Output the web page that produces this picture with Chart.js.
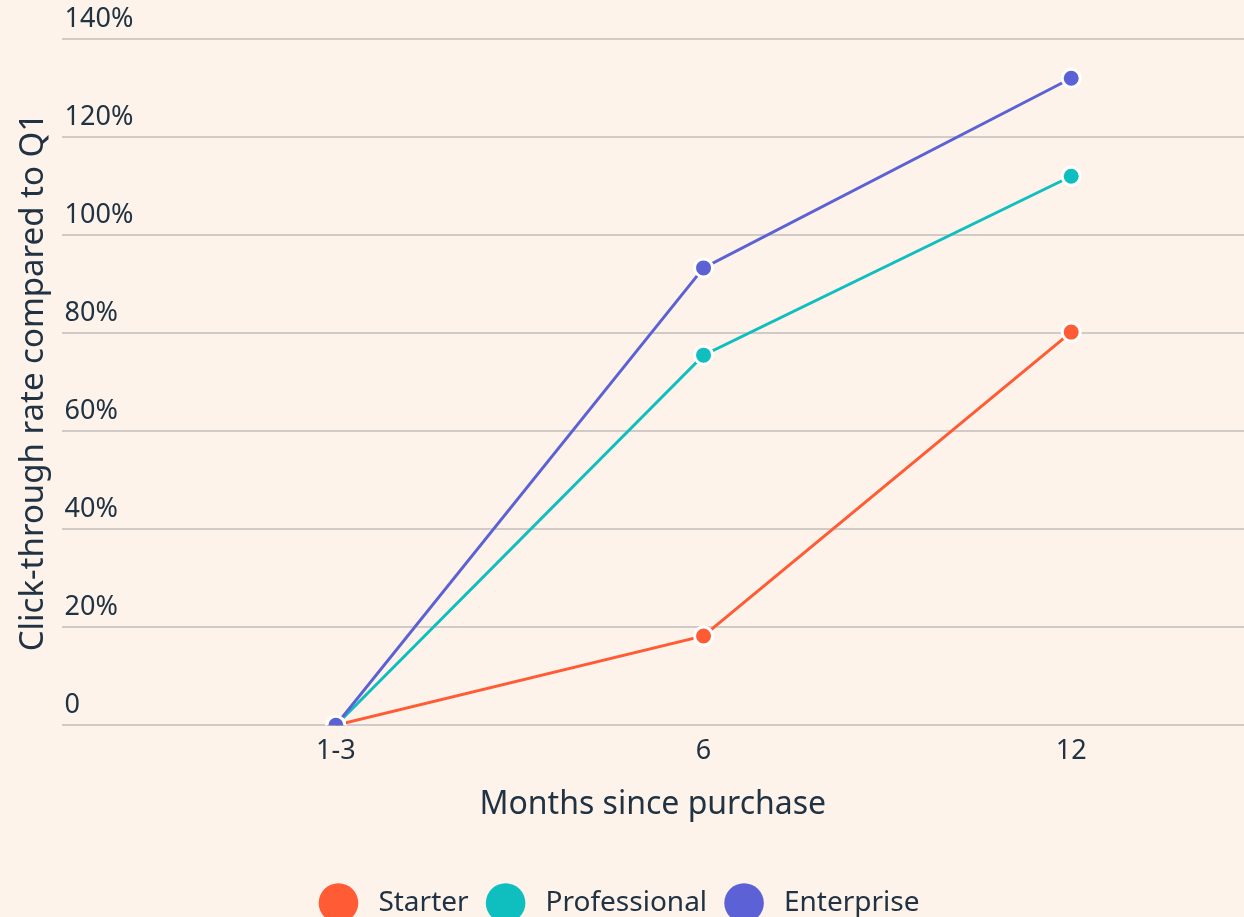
<!DOCTYPE html>
<html lang="en">
<head>
  <meta charset="UTF-8" />
  <title>Click-through rate by months since purchase</title>
  <script src="https://cdn.jsdelivr.net/npm/chart.js"></script>
  <style>
    html, body {
      margin: 0;
      padding: 0;
      overflow: hidden;
      background-color: #fdf3ea;
    }
    #wrap {
      width: 1244px;
      height: 917px;
    }
    canvas {
      display: block;
    }
  </style>
</head>
<body>
  <div id="wrap"><canvas id="ctrChart"></canvas></div>

  <script>
    const months = ["1-3", "6", "12"];
    const starter = [0, 18.2, 80.2];
    const professional = [0, 75.5, 112];
    const enterprise = [0, 93.3, 132];
    const yTicks = [0, 20, 40, 60, 80, 100, 120, 140];

    const ink = "#213343";
    const font = "'Noto Sans', sans-serif";

    const toPoints = arr => arr.map((v, i) => ({ x: i, y: v }));

    function lineSet(label, values, color, order) {
      return {
        label,
        data: toPoints(values),
        borderColor: color,
        backgroundColor: color,
        borderWidth: 3,
        pointRadius: 9,
        pointHoverRadius: 9,
        pointBorderColor: "#ffffff",
        pointBorderWidth: 3,
        pointBackgroundColor: color,
        order
      };
    }

    const ctx = document.getElementById("ctrChart").getContext("2d");
    new Chart(ctx, {
      type: "line",
      data: {
        datasets: [
          lineSet("Starter", starter, "#ff5c35", 2),
          lineSet("Professional", professional, "#0fbfbf", 1),
          lineSet("Enterprise", enterprise, "#5c62d6", 0)
        ]
      },
      options: {
        responsive: true,
        maintainAspectRatio: false,
        animation: false,
        layout: { autoPadding: false, padding: { top: 39, right: 0, bottom: -10, left: 0 } },
        scales: {
          x: {
            type: "linear",
            min: -0.746,
            max: 2.47,
            afterBuildTicks: s => { s.ticks = months.map((m, i) => ({ value: i })); },
            // no auto padding for edge labels, the plot runs to the right edge
            afterFit: s => { s.paddingLeft = 0; s.paddingRight = 0; },
            ticks: {
              color: ink,
              font: { family: font, size: 27 },
              padding: 10,
              callback: v => months[v]
            },
            grid: { display: false, drawTicks: false },
            border: { display: false },
            title: {
              display: true,
              text: "Months since purchase",
              color: ink,
              font: { family: font, size: 32 },
              padding: { top: 8, bottom: 42 }
            }
          },
          y: {
            min: 0,
            max: 140,
            afterBuildTicks: s => { s.ticks = yTicks.map(v => ({ value: v })); },
            ticks: {
              mirror: true,
              padding: 3,
              labelOffset: -20,
              color: ink,
              font: { family: font, size: 27 },
              callback: v => v === 0 ? "0" : v + "%"
            },
            grid: { color: "#d0cbc6", lineWidth: 2, drawTicks: false },
            border: { display: false },
            title: {
              display: true,
              text: "Click-through rate compared to Q1",
              color: ink,
              font: { family: font, size: 33 },
              padding: { top: 14, bottom: 2 }
            }
          }
        },
        plugins: {
          legend: {
            position: "bottom",
            labels: {
              usePointStyle: true,
              pointStyle: "circle",
              boxWidth: 28,
              boxHeight: 28,
              padding: 23,
              color: ink,
              font: { family: font, size: 28 },
              sort: (a, b) => a.datasetIndex - b.datasetIndex,
              // plain filled dots, a little gap before the text
              generateLabels: chart => Chart.defaults.plugins.legend.labels.generateLabels(chart)
                .map(item => Object.assign(item, {
                  text: " \u2009" + item.text,
                  strokeStyle: item.fillStyle,
                  lineWidth: 0
                }))
            }
          },
          tooltip: { enabled: false }
        }
      }
    });
  </script>
</body>
</html>
